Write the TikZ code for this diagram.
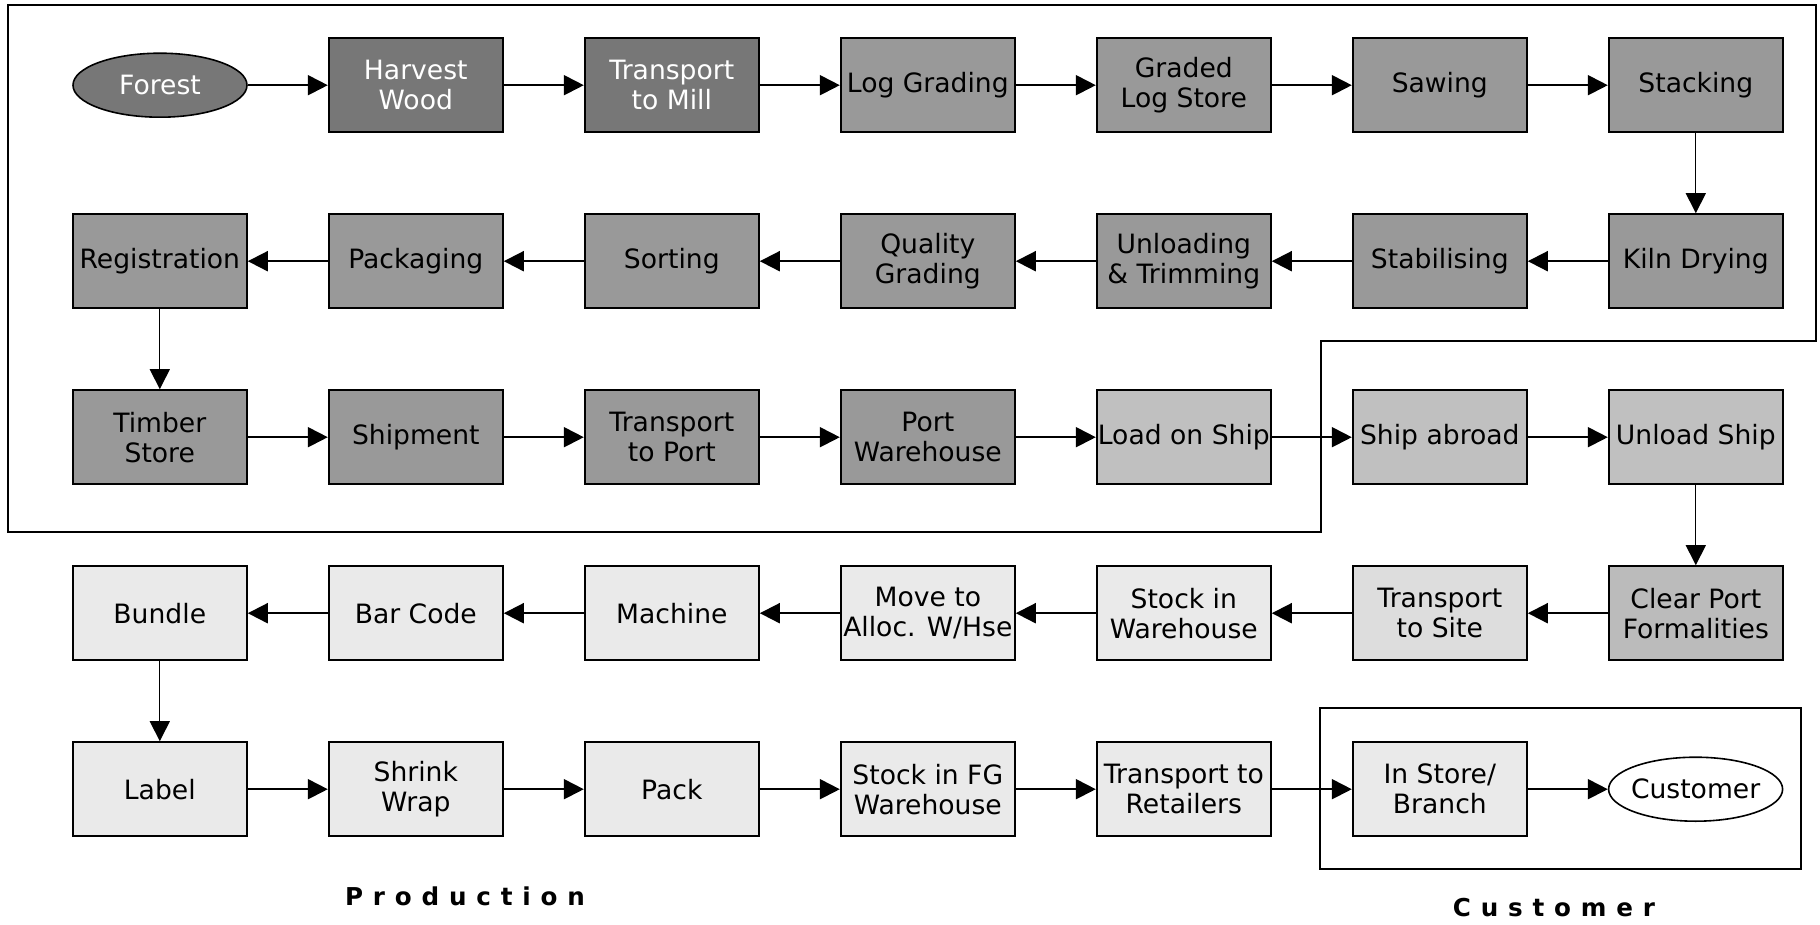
\documentclass[tikz,border=0pt]{standalone}
\usepackage{fontspec}
\setmainfont{DejaVu Sans}
\usetikzlibrary{positioning,shapes,arrows.meta}
\definecolor{harvestgrey}{HTML}{777777}
\definecolor{millgrey}{HTML}{999999}
\definecolor{shipgrey}{HTML}{C0C0C0}
\definecolor{portgrey}{HTML}{BBBBBB}
\definecolor{sitegrey}{HTML}{DDDDDD}
\definecolor{storegrey}{HTML}{EAEAEA}

\begin{document}
\begin{tikzpicture}
        [font=\fontsize{13.3}{15}\selectfont, node distance=40pt,
        stepbox/.style={rectangle, draw=black, line width=1pt, align=center,
        minimum width=87pt, minimum height=47pt, inner xsep=0pt, inner ysep=1pt},
        endpoint/.style={ellipse, draw=black, line width=0.8pt,
        minimum width=87pt, minimum height=32pt, inner xsep=-4pt, inner ysep=0pt},
        harvest/.style={stepbox, fill=harvestgrey, text=white},
        mill/.style={stepbox, fill=millgrey},
        ship/.style={stepbox, fill=shipgrey},
        site/.style={stepbox, fill=storegrey},
        flow/.style={draw=black, line width=1pt, -{Triangle[length=10pt,width=10pt]}},
        drop/.style={flow, line width=0.65pt},
        areaname/.style={font=\fontsize{12.3}{14}\selectfont\bfseries\addfontfeatures{LetterSpace=40}}]
        \useasboundingbox (0,0) rectangle (910pt,-462.5pt);
        % production and customer areas
        \draw [line width=1pt] (4pt,-2.5pt) -- (908pt,-2.5pt) -- (908pt,-170.3pt)
            -- (660.5pt,-170.3pt) -- (660.5pt,-266pt) -- (4pt,-266pt) -- cycle;
        \draw [line width=1pt] (660pt,-354pt) rectangle (900.5pt,-434.5pt);
        % row 1
        \node [endpoint, fill=harvestgrey, text=white] (forest) at (80pt,-42.6pt) {Forest};
        \node [harvest, right=of forest] (harvestWood) {Harvest\\Wood};
        \node [harvest, right=of harvestWood] (toMill) {Transport\\to Mill};
        \node [mill, right=of toMill] (logGrading) {Log Grading};
        \node [mill, right=of logGrading] (logStore) {Graded\\Log Store};
        \node [mill, right=of logStore] (sawing) {Sawing};
        \node [mill, right=of sawing] (stacking) {Stacking};
        % row 2
        \node [mill, below=of stacking] (kiln) {Kiln Drying};
        \node [mill, left=of kiln] (stabilising) {Stabilising};
        \node [mill, left=of stabilising] (unloading) {Unloading\\\& Trimming};
        \node [mill, left=of unloading] (quality) {Quality\\Grading};
        \node [mill, left=of quality] (sorting) {Sorting};
        \node [mill, left=of sorting] (packaging) {Packaging};
        \node [mill, left=of packaging] (registration) {Registration};
        % row 3
        \node [mill, below=of registration] (timberStore) {Timber\\Store};
        \node [mill, right=of timberStore] (shipment) {Shipment};
        \node [mill, right=of shipment] (toPort) {Transport\\to Port};
        \node [mill, right=of toPort] (portWH) {Port\\Warehouse};
        \node [ship, right=of portWH] (loadShip) {\makebox[85pt]{Load on Ship}};
        \node [ship, right=of loadShip] (abroad) {Ship abroad};
        \node [ship, right=of abroad] (unloadShip) {Unload Ship};
        % row 4
        \node [stepbox, fill=portgrey, below=of unloadShip] (clearPort) {Clear Port\\Formalities};
        \node [stepbox, fill=sitegrey, left=of clearPort] (toSite) {Transport\\to Site};
        \node [site, left=of toSite] (stockWH) {Stock in\\Warehouse};
        \node [site, left=of stockWH] (moveAlloc) {Move to\\Alloc. W/Hse};
        \node [site, left=of moveAlloc] (machine) {Machine};
        \node [site, left=of machine] (barCode) {Bar Code};
        \node [site, left=of barCode] (bundle) {Bundle};
        % row 5
        \node [site, below=of bundle] (label) {Label};
        \node [site, right=of label] (shrink) {Shrink\\Wrap};
        \node [site, right=of shrink] (pack) {Pack};
        \node [site, right=of pack] (stockFG) {Stock in FG\\Warehouse};
        \node [site, right=of stockFG] (toRetail) {Transport to\\Retailers};
        \node [site, right=of toRetail] (inStore) {In Store/\\Branch};
        \node [endpoint, fill=white, right=of inStore] (customer) {Customer};
        % area names
        \node [areaname] (production) at (232.5pt,-448pt) {Production};
        \node [areaname] (customerArea) at (777pt,-454pt) {Customer};
        % connectors
        \draw [flow] (forest) -- (harvestWood);
        \draw [flow] (harvestWood) -- (toMill);
        \draw [flow] (toMill) -- (logGrading);
        \draw [flow] (logGrading) -- (logStore);
        \draw [flow] (logStore) -- (sawing);
        \draw [flow] (sawing) -- (stacking);
        \draw [drop] (stacking) -- (kiln);
        \draw [flow] (kiln) -- (stabilising);
        \draw [flow] (stabilising) -- (unloading);
        \draw [flow] (unloading) -- (quality);
        \draw [flow] (quality) -- (sorting);
        \draw [flow] (sorting) -- (packaging);
        \draw [flow] (packaging) -- (registration);
        \draw [drop] (registration) -- (timberStore);
        \draw [flow] (timberStore) -- (shipment);
        \draw [flow] (shipment) -- (toPort);
        \draw [flow] (toPort) -- (portWH);
        \draw [flow] (portWH) -- (loadShip);
        \draw [flow] (loadShip) -- (abroad);
        \draw [flow] (abroad) -- (unloadShip);
        \draw [drop] (unloadShip) -- (clearPort);
        \draw [flow] (clearPort) -- (toSite);
        \draw [flow] (toSite) -- (stockWH);
        \draw [flow] (stockWH) -- (moveAlloc);
        \draw [flow] (moveAlloc) -- (machine);
        \draw [flow] (machine) -- (barCode);
        \draw [flow] (barCode) -- (bundle);
        \draw [drop] (bundle) -- (label);
        \draw [flow] (label) -- (shrink);
        \draw [flow] (shrink) -- (pack);
        \draw [flow] (pack) -- (stockFG);
        \draw [flow] (stockFG) -- (toRetail);
        \draw [flow] (toRetail) -- (inStore);
        \draw [flow] (inStore) -- (customer);
\end{tikzpicture}
\end{document}
